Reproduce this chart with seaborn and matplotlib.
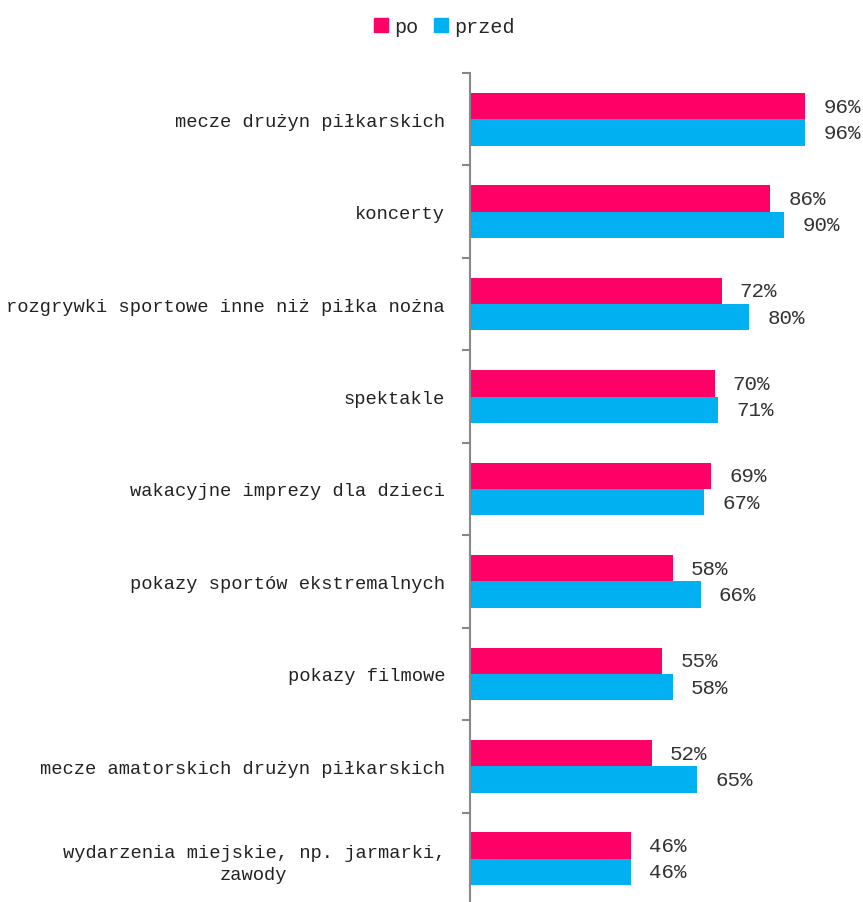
import numpy as np
import pandas as pd
import matplotlib
matplotlib.use("Agg")
import matplotlib.pyplot as plt
import seaborn as sns
from matplotlib.patches import Patch

categories = [
    "mecze drużyn piłkarskich",
    "koncerty",
    "rozgrywki sportowe inne niż piłka nożna",
    "spektakle",
    "wakacyjne imprezy dla dzieci",
    "pokazy sportów ekstremalnych",
    "pokazy filmowe",
    "mecze amatorskich drużyn piłkarskich",
    "wydarzenia miejskie, np. jarmarki,\nzawody",
]
po = [96, 86, 72, 70, 69, 58, 55, 52, 46]
przed = [96, 90, 80, 71, 67, 66, 58, 65, 46]
series = ["po", "przed"]
colors = {"po": "#FF0066", "przed": "#00B0F0"}

df = pd.DataFrame({
    "kategoria": categories * 2,
    "seria": ["po"] * len(po) + ["przed"] * len(przed),
    "wartosc": po + przed,
})

sns.set_style("white")
plt.rcParams["font.family"] = ["Liberation Mono", "DejaVu Sans"]

fig = plt.figure(figsize=(8.63, 9.03), dpi=100)
# axes runs slightly below the figure edge, as in the original
ax = fig.add_axes([470 / 863, -3 / 903, 1 - 470 / 863, 832 / 903])

sns.barplot(data=df, y="kategoria", x="wartosc", hue="seria", orient="h",
            palette=colors, width=0.57, gap=0, saturation=1, legend=False,
            ax=ax, errorbar=None, linewidth=0)

for cont in ax.containers:
    ax.bar_label(cont, labels=[f"{v:.0f}%" for v in cont.datavalues],
                 padding=13, fontsize=15, color="#333333")

ax.set_xlim(0, 112.5)
ax.set_ylim(len(categories) - 0.5, -0.5)
ax.set_xlabel("")
ax.set_ylabel("")
ax.set_xticks([])
for s in ["top", "right", "bottom"]:
    ax.spines[s].set_visible(False)
ax.spines["left"].set_color("#888888")
ax.spines["left"].set_linewidth(1.5)

ax.tick_params(axis="y", which="major", length=0, pad=18, labelsize=13.5,
               labelcolor="#222222")
ax.set_yticks(np.arange(-0.5, len(categories)), minor=True)
ax.tick_params(axis="y", which="minor", length=6, width=1.5, color="#888888",
               left=True)
for lab in ax.get_yticklabels():
    lab.set_multialignment("center")
    lab.set_linespacing(1.4)

handles = [Patch(color=colors[s], label=s) for s in series]
fig.legend(handles=handles, loc="upper center", bbox_to_anchor=(0.515, 1.0),
           ncol=2, frameon=False, fontsize=14.5, handlelength=0.7,
           handleheight=0.7, handletextpad=0.3, columnspacing=0.8)

fig.savefig("out.png", dpi=100)
